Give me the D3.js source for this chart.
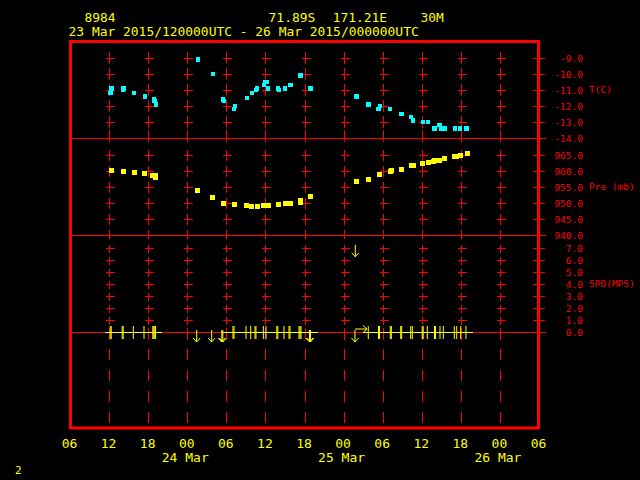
<!DOCTYPE html>
<html><head><meta charset="utf-8">
<script src="https://cdn.jsdelivr.net/npm/d3@7"></script>
<style>
html,body{margin:0;padding:0;background:#000;}
svg{display:block;background:#000;}
text{font-family:"DejaVu Sans Mono","Liberation Mono",monospace;}
</style></head><body>
<svg id="c" width="640" height="480"></svg>
<script>
// ---------- header ----------
const stationId = "8984";
const latText = "71.89S";
const lonText = "171.21E";
const elevText = "30M";
const periodText = "23 Mar 2015/120000UTC - 26 Mar 2015/000000UTC";
const pageNo = "2";

// ---------- axes ----------
// time as hours since 23 Mar 2015 00:00 UTC
const timeDomain = [6, 78];
const timeTicks = [6, 12, 18, 24, 30, 36, 42, 48, 54, 60, 66, 72, 78];
const gridHours = [12, 18, 24, 30, 36, 42, 48, 54, 60, 66, 72];
const dateLabels = ["24 Mar", "25 Mar", "26 Mar"];
const dateHours = [24, 48, 72];

const tTicks = [-9, -10, -11, -12, -13, -14];
const pTicks = [965, 960, 955, 950, 945, 940];
const sTicks = [7, 6, 5, 4, 3, 2, 1, 0];
const panelNames = ["T(C)", "Pre (mb)", "SPD(MPS)"];

// ---------- temperature ----------
const tHours = [12.25, 12.40, 14.14, 14.24, 15.83, 17.51, 18.90, 18.97, 19.20, 25.65, 27.95, 29.49, 29.64,
  31.18, 31.33, 33.17, 33.94, 34.55, 34.71, 35.78, 35.94, 36.24, 36.40, 37.93, 38.09, 39.01, 39.77, 39.93,
  41.31, 41.46, 42.92, 49.95, 51.86, 53.39, 53.59, 55.13, 56.86, 58.35, 58.66, 60.19, 60.96, 61.93, 62.76,
  63.06, 63.52, 65.10, 65.87, 66.90];
const tValues = [-11.2, -10.9, -11.0, -10.9, -11.2, -11.4, -11.6, -11.7, -11.9, -9.1, -10.0, -11.6, -11.7,
  -12.2, -12.0, -11.5, -11.2, -11.0, -10.9, -10.7, -10.5, -10.5, -10.9, -10.9, -11.0, -10.9, -10.7, -10.7,
  -10.1, -10.1, -10.9, -11.4, -11.9, -12.2, -12.0, -12.2, -12.5, -12.7, -12.9, -13.0, -13.0, -13.4, -13.2,
  -13.4, -13.4, -13.4, -13.4, -13.4];

// ---------- pressure ----------
const pHours = [12.34, 14.18, 15.83, 17.51, 18.74, 19.05, 19.20, 25.65, 27.95, 29.53, 31.22, 33.17, 33.94,
  34.71, 35.78, 36.40, 37.98, 39.01, 39.82, 41.31, 41.46, 42.92, 49.95, 51.90, 53.44, 55.13, 55.28, 56.86,
  58.35, 58.66, 60.19, 60.96, 61.88, 62.03, 62.80, 63.52, 65.10, 65.41, 66.02, 66.95];
const pValues = [960.3, 960.0, 959.4, 959.2, 958.5, 958.5, 958.1, 953.8, 951.7, 950.0, 949.4, 949.1, 948.8,
  948.8, 949.2, 949.2, 949.4, 949.7, 950.0, 950.3, 950.7, 951.9, 956.6, 957.5, 958.8, 959.8, 960.1, 960.6,
  961.7, 961.7, 962.5, 962.8, 963.1, 963.4, 963.4, 963.8, 964.4, 964.4, 965.0, 965.6];

// ---------- wind ----------
const speedLineHours = [11.37, 20.12, null, 29.29, 44.12, null, 50.93, 67.91];
const speedLineValues = [0, 0, null, 0, 0, null, 0, 0];
// direction null = calm (plain bar)
const windHours = [12.17, 12.33, 14.01, 14.17, 15.72, 17.36, 18.71, 18.86, 19.02, 19.14,
  25.45, 27.75, 29.30, 29.46,
  31.02, 31.18, 33.02, 33.74, 34.40, 34.55, 35.68, 36.09, 37.75, 37.90, 38.85, 39.62, 39.77, 41.16, 41.31, 41.46,
  42.77, 42.92, 49.75, 49.80, 50.06,
  51.79, 53.36, 53.51, 55.17, 55.33, 56.77, 56.92, 58.30, 58.55, 60.07, 60.22, 60.85, 61.96, 62.11, 62.80,
  63.31, 65.00, 65.37, 65.98, 66.79];
const windSpeed = [0, 0, 0, 0, 0, 0, 0, 0, 0, 0,
  0, 0, 0, 0,
  0, 0, 0, 0, 0, 0, 0, 0, 0, 0, 0, 0, 0, 0, 0, 0,
  0, 0, 0, 7.1, 0.25,
  0, 0, 0, 0, 0, 0, 0, 0, 0, 0, 0, 0, 0, 0, 0,
  0, 0, 0, 0, 0];
const windDir = [null, null, null, null, null, null, null, null, null, null,
  360, 360, 360, 360,
  null, null, null, null, null, null, null, null, null, null, null, null, null, null, null, null,
  360, 360, 360, 360, 270,
  null, null, null, null, null, null, null, null, null, null, null, null, null, null, null,
  null, null, null, null, null];

// ================= drawing =================
const RED = "#ff0000", YEL = "#ffff00", CYAN = "#00ffff";
const svg = d3.select("#c");
const L = 70, R = 539;

const x = d3.scaleLinear().domain(timeDomain).range([L, R]);
const yT = d3.scaleLinear().domain([-14, -8]).range([138, 42]);
const yP = d3.scaleLinear().domain([940, 970]).range([235, 139]);
const yS = d3.scaleLinear().domain([0, 8]).range([332, 236]);

// header
const CH = 7.78; // character pitch of the header font
const hdr = svg.append("g").attr("fill", YEL).style("font-size", "12px");
[[stationId, 84.5, 22], [latText, 268.6, 22], [lonText, 332.7, 22], [elevText, 420.4, 22], [periodText, 68.6, 36]]
  .forEach(([t, xx, yy]) => {
    hdr.append("text").attr("x", xx).attr("y", yy)
      .attr("textLength", t.length * CH).attr("lengthAdjust", "spacingAndGlyphs").text(t);
  });
svg.append("text").attr("x", 15).attr("y", 474).attr("fill", YEL).style("font-size", "11px").text(pageNo);

const grid = svg.append("g").attr("stroke", RED).attr("stroke-width", 1).attr("shape-rendering", "crispEdges");

// panel separator lines
[yT(-14), yP(940), yS(0)].forEach(yy => {
  grid.append("line").attr("x1", L).attr("x2", 546).attr("y1", yy).attr("y2", yy);
});

// crosses on vertical grid lines
function crosses(scale, ticks, boundary, up, dn, bUp, bDn) {
  gridHours.forEach(h => {
    const xx = Math.round(x(h)) + 0.5;
    ticks.forEach(v => {
      const yy = Math.round(scale(v)) + 0.5;
      if (v === boundary) {
        grid.append("line").attr("x1", xx).attr("x2", xx).attr("y1", yy - bUp).attr("y2", yy + bDn);
      } else {
        grid.append("line").attr("x1", xx).attr("x2", xx).attr("y1", yy - up).attr("y2", yy + dn);
        grid.append("line").attr("x1", xx - 4).attr("x2", xx + 5).attr("y1", yy).attr("y2", yy);
      }
    });
  });
}
crosses(yT, tTicks, -14, 7, 5, 9, 3);
crosses(yP, pTicks, 940, 6, 5, 6, 3);
crosses(yS, sTicks, 0, 4, 4, 5, 7);

// bottom empty panel dashed verticals
gridHours.forEach(h => {
  const xx = Math.round(x(h)) + 0.5;
  grid.append("line").attr("x1", xx).attr("x2", xx).attr("y1", 349).attr("y2", 426)
    .attr("stroke-dasharray", "11,10");
});

// right axes
function rightAxis(scale, ticks, name, boundary, labelAt) {
  const g = svg.append("g").attr("transform", "translate(533,0)")
    .call(d3.axisRight(scale).tickValues(ticks).tickSize(12).tickFormat(d => d.toFixed(1)));
  g.select(".domain").remove();
  g.selectAll("line").attr("stroke", RED).attr("shape-rendering", "crispEdges");
  g.selectAll(".tick").filter(d => d === boundary).select("line").attr("x1", -3);
  g.selectAll("text").attr("fill", RED).attr("text-anchor", "end").attr("x", 50)
    .style("font-size", "9.5px").style("font-family", '"DejaVu Sans Mono",monospace');
  svg.append("text").attr("x", 589).attr("y", scale(labelAt)).attr("dy", "0.32em")
    .attr("fill", RED).style("font-size", "9.5px").text(name);
}
rightAxis(yT, tTicks, panelNames[0], -14, -11);
rightAxis(yP, pTicks, panelNames[1], 940, 955);
rightAxis(yS, sTicks, panelNames[2], 0, 4);

// bottom time axis
const xa = svg.append("g").attr("transform", "translate(-1,0)")
  .call(d3.axisBottom(x).tickValues(timeTicks).tickSize(0)
    .tickFormat(h => String(h % 24).padStart(2, "0")));
xa.select(".domain").remove();
xa.selectAll("text").attr("fill", YEL).attr("y", 448).attr("dy", null)
  .style("font-size", "13px").style("font-family", '"DejaVu Sans Mono",monospace');
svg.append("g").selectAll("text").data(dateLabels).join("text")
  .attr("x", (d, i) => x(dateHours[i]) - 2).attr("y", 462).attr("text-anchor", "middle")
  .attr("fill", YEL).style("font-size", "13px").text(d => d);

// temperature squares
const tData = tHours.map((h, i) => ({ h, v: tValues[i] }));
svg.append("g").attr("fill", CYAN).attr("shape-rendering", "crispEdges")
  .selectAll("rect").data(tData).join("rect")
  .attr("x", d => x(d.h) - 2.25).attr("y", d => yT(d.v) - 2.25).attr("width", 4.5).attr("height", 4.5);

// pressure squares
const pData = pHours.map((h, i) => ({ h, v: pValues[i] }));
svg.append("g").attr("fill", YEL).attr("shape-rendering", "crispEdges")
  .selectAll("rect").data(pData).join("rect")
  .attr("x", d => x(d.h) - 2.5).attr("y", d => yP(d.v) - 2.5).attr("width", 5).attr("height", 5);

// wind speed line
const sLine = speedLineHours.map((h, i) => ({ h, v: speedLineValues[i] }));
svg.append("path").datum(sLine)
  .attr("d", d3.line().defined(d => d.h !== null).x(d => x(d.h)).y(d => Math.round(yS(d.v)) + 0.5))
  .attr("fill", "none").attr("stroke", YEL).attr("stroke-width", 1).attr("shape-rendering", "crispEdges");

// wind glyphs
const wData = windHours.map((h, i) => ({ h, s: windSpeed[i], d: windDir[i] }));
const wg = svg.append("g").attr("stroke", YEL).attr("fill", "none").attr("stroke-width", 1);
wData.forEach(w => {
  const cx = x(w.h), cy = yS(w.s);
  const g = wg.append("g").attr("transform", `translate(${cx},${cy})` + (w.d === null ? "" : ` rotate(${w.d})`));
  if (w.d === null) {
    g.append("line").attr("x1", 0).attr("x2", 0).attr("y1", -6).attr("y2", 7);
  } else {
    g.append("line").attr("x1", 0).attr("x2", 0).attr("y1", -2).attr("y2", 10);
    g.append("path").attr("d", "M-3.5,6 L0,10 L3.5,6");
  }
});

// frame
svg.append("rect").attr("x", 70.5).attr("y", 41.5).attr("width", 468).attr("height", 386.5)
  .attr("fill", "none").attr("stroke", RED).attr("stroke-width", 3);
</script>
</body></html>
